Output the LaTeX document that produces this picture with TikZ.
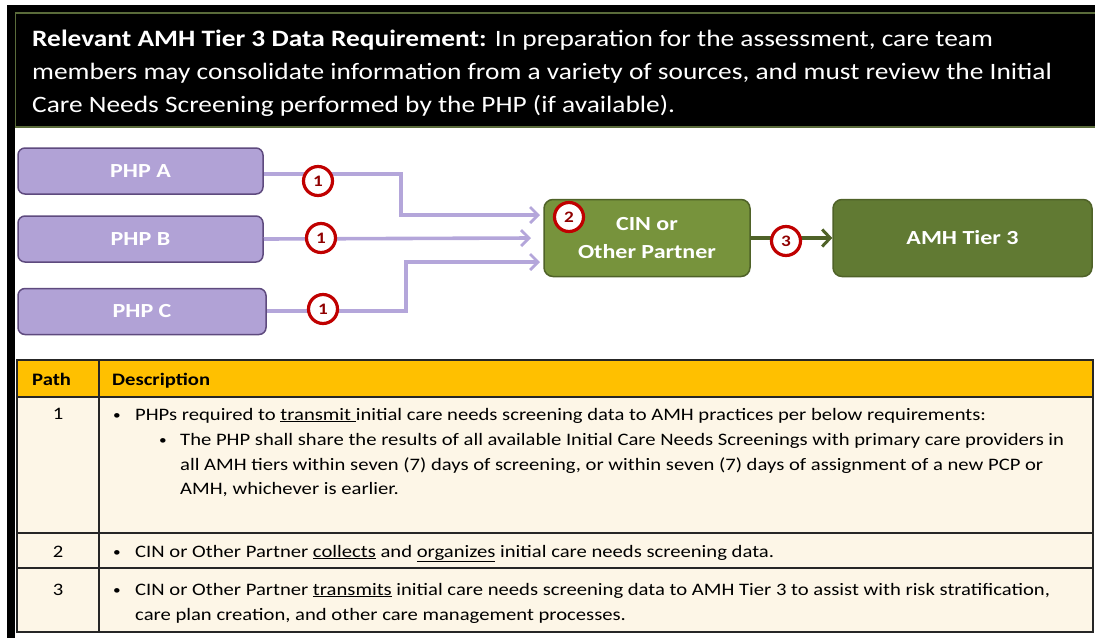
\documentclass[tikz,border=0pt]{standalone}
\usepackage{fontspec}
\setmainfont{Carlito}
\newfontfamily\hdfont[FakeStretch=1.165]{Carlito}
\newfontfamily\tbfont[FakeStretch=1.18]{Carlito}
\newfontfamily\bxfont[FakeStretch=1.2]{Carlito}
\usetikzlibrary{arrows.meta}
\definecolor{phpfill}{HTML}{B1A2D6}
\definecolor{phpdraw}{HTML}{5E4A7E}
\definecolor{conncol}{HTML}{B4A6DA}
\definecolor{redc}{HTML}{C00000}
\definecolor{cinfill}{HTML}{77933C}
\definecolor{amhfill}{HTML}{617A33}
\definecolor{darkgreen}{HTML}{4F6228}
\definecolor{gold}{HTML}{FFC000}
\definecolor{cream}{HTML}{FDF6E7}
\definecolor{olive}{HTML}{5A6B3A}
\newcommand{\bul}{{\fontsize{13}{13}\selectfont\raisebox{1pt}{•}}}
\begin{document}
\begin{tikzpicture}[x=1pt,y=-1pt,
  phpbox/.style={draw=phpdraw,line width=1.5pt,fill=phpfill,rounded corners=7pt,minimum width=245pt,minimum height=46pt,inner sep=0pt,text=white,font=\bxfont\bfseries\fontsize{20}{24}\selectfont},
  greenbox/.style={draw=darkgreen,line width=1.5pt,rounded corners=9pt,minimum height=77pt,inner sep=0pt,text=white,align=center,font=\bxfont\bfseries\fontsize{20}{28}\selectfont},
  conn/.style={draw=conncol,line width=3.6pt,-{Straight Barb[length=8pt,width=16pt,line width=2.8pt]}},
  num/.style={circle,draw=redc,line width=3.2pt,fill=white,minimum size=29pt,inner sep=0pt,text=redc!75!black,font=\bxfont\bfseries\fontsize{16}{16}\selectfont},
  hdtext/.style={anchor=base west,inner sep=0pt,text=white,font=\hdfont\fontsize{23.5}{28}\selectfont},
  tbtext/.style={anchor=base west,inner sep=0pt,font=\tbfont\fontsize{17.5}{21}\selectfont},
  tbcenter/.style={anchor=base,inner sep=0pt,font=\tbfont\fontsize{17.5}{21}\selectfont},
  tbline/.style={draw=black!85,line width=1.5pt}]
\useasboundingbox (0,0) rectangle (1095,638);
% outer black frame
\fill[black] (7,5) rectangle (1095,13);
\fill[black] (7,5) rectangle (15,638);
% header box
\draw[fill=black,draw=olive,line width=1.5pt] (15.5,13) rectangle (1096,127);
\node[hdtext] (h1) at (32,46) {\textbf{Relevant AMH Tier 3 Data Requirement:} In preparation for the assessment, care team};
\node[hdtext] (h2) at (32,79) {members may consolidate information from a variety of sources, and must review the Initial};
\node[hdtext] (h3) at (32,112) {Care Needs Screening performed by the PHP (if available).};
% PHP boxes
\node[phpbox] (phpA) at (140.5,171) {PHP A};
\node[phpbox] (phpB) at (140.5,239) {PHP B};
\node[phpbox,minimum width=248pt] (phpC) at (142,311.5) {PHP C};
% green boxes
\node[greenbox,fill=cinfill,minimum width=206pt] (cin) at (647,238) {CIN or\\Other Partner};
\node[greenbox,fill=amhfill,minimum width=259pt] (amh) at (962.5,238) {AMH Tier 3};
% connectors
\coordinate (endA) at (540,215);
\coordinate (endB) at (531,238);
\coordinate (endC) at (540,262);
\coordinate (turnA) at (401,215);
\coordinate (turnC) at (406,262);
\draw[conn] (phpA.east |- 0,174) -| (turnA) -- (endA);
\draw[conn] (phpB.east) -- (endB);
\draw[conn] (phpC.east |- 0,311) -| (turnC) -- (endC);
\draw[draw=darkgreen,line width=4pt,-{Straight Barb[length=8pt,width=17pt,line width=3pt]}] (cin.east) -- (amh.west);
% numbers
\node[num] (n1a) at (318,181) {1};
\node[num] (n1b) at (321,238) {1};
\node[num] (n1c) at (323,309) {1};
\node[num] (n2) at (569,217) {2};
\node[num] (n3) at (786,241) {3};
% table
\fill[gold] (17,360) rectangle (1093,397);
\fill[cream] (17,397) rectangle (1093,632);
\draw[tbline] (17,360) rectangle (1093,632);
\draw[tbline] (17,397) -- (1093,397);
\draw[tbline] (17,533) -- (1093,533);
\draw[tbline] (17,568) -- (1093,568);
\draw[tbline] (99,360) -- (99,632);
\node[tbtext] (thp) at (32,385) {\bfseries Path};
\node[tbtext] (thd) at (112,385) {\bfseries Description};
\node[tbcenter] (r1n) at (58,419.5) {1};
\node[tbtext] (r1b) at (113,420) {\bul};
\node[tbtext] (r1a) at (135,420) {PHPs required to \underline{transmit\ }initial care needs screening data to AMH practices per below requirements:};
\node[tbtext] (r1sb) at (159,445) {\bul};
\node[tbtext] (r1s1) at (180,445) {The PHP shall share the results of all available Initial Care Needs Screenings with primary care providers in};
\node[tbtext] (r1s2) at (180,470) {all AMH tiers within seven (7) days of screening, or within seven (7) days of assignment of a new PCP or};
\node[tbtext] (r1s3) at (180,494.5) {AMH, whichever is earlier.};
\node[tbcenter] (r2n) at (58,557) {2};
\node[tbtext] (r2b) at (113,557) {\bul};
\node[tbtext] (r2a) at (135,557) {CIN or Other Partner \underline{collects} and \underline{organizes} initial care needs screening data.};
\node[tbcenter] (r3n) at (58,595) {3};
\node[tbtext] (r3b) at (113,595) {\bul};
\node[tbtext] (r3a) at (135,595) {CIN or Other Partner \underline{transmits} initial care needs screening data to AMH Tier 3 to assist with risk stratification,};
\node[tbtext] (r3c) at (135,620) {care plan creation, and other care management processes.};
\end{tikzpicture}
\end{document}
